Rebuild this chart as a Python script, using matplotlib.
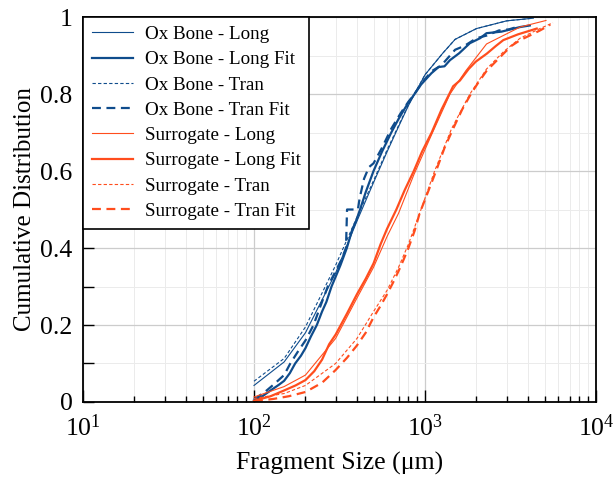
import matplotlib
matplotlib.use("Agg")
import matplotlib.pyplot as plt
from matplotlib.ticker import LogLocator, MultipleLocator, FixedLocator, NullFormatter

plt.rcParams["font.family"] = ["Liberation Serif", "DejaVu Serif"]
plt.rcParams["mathtext.fontset"] = "custom"
plt.rcParams["mathtext.rm"] = "Liberation Serif"
plt.rcParams["mathtext.it"] = "Liberation Serif:italic"

# Ox bone, longitudinal (smooth curve)
ox_long_x = [100, 150, 200, 300, 400, 500, 600, 700, 800, 1000, 1270, 1500, 2000, 3000, 4300]
ox_long_y = [0.043, 0.104, 0.18, 0.335, 0.47, 0.57, 0.65, 0.715, 0.77, 0.85, 0.906, 0.942, 0.97, 0.99, 0.997]

# Ox bone, longitudinal fit (thick, jagged)
ox_long_fit_x = [100, 112, 125, 140, 150, 162, 174, 188, 200, 215, 233, 250, 265, 284, 300, 320,
                 349, 375, 395, 417, 450, 500, 560, 635, 700, 780, 868, 950, 1090, 1200, 1300,
                 1400, 1585, 1830, 2100, 2290, 2800, 3600, 4100]
ox_long_fit_y = [0.004, 0.015, 0.03, 0.045, 0.055, 0.075, 0.1, 0.12, 0.14, 0.17, 0.2, 0.235, 0.26,
                 0.3, 0.325, 0.355, 0.4, 0.447, 0.47, 0.5, 0.545, 0.6, 0.65, 0.7, 0.735, 0.77, 0.8,
                 0.825, 0.854, 0.87, 0.872, 0.888, 0.906, 0.932, 0.945, 0.958, 0.962, 0.974, 0.978]

# Ox bone, transverse (smooth curve)
ox_tran_x = [100, 150, 200, 300, 400, 500, 600, 700, 800, 1000, 1270, 1500, 2000, 3000, 4300]
ox_tran_y = [0.054, 0.113, 0.195, 0.355, 0.48, 0.575, 0.655, 0.718, 0.772, 0.85, 0.906, 0.942, 0.97, 0.99, 0.997]

# Ox bone, transverse fit (thick dashed, jagged)
ox_tran_fit_x = [100, 115, 130, 150, 163, 180, 200, 223, 245, 270, 300, 325, 345, 350, 380, 405,
                 415, 440, 470, 500, 560, 635, 720, 800, 868, 960, 1100, 1250, 1500, 1700, 2000,
                 2300, 2700, 3100, 3500]
ox_tran_fit_y = [0.007, 0.025, 0.045, 0.07, 0.1, 0.13, 0.16, 0.2, 0.25, 0.3, 0.34, 0.37, 0.4, 0.5,
                 0.5, 0.5, 0.53, 0.58, 0.61, 0.62, 0.66, 0.71, 0.75, 0.78, 0.8, 0.83, 0.86, 0.875,
                 0.915, 0.925, 0.945, 0.952, 0.965, 0.968, 0.975]

# Surrogate, longitudinal (smooth curve)
sur_long_x = [100, 150, 200, 300, 400, 500, 600, 700, 860, 1094, 1400, 1730, 2290, 3600, 5100]
sur_long_y = [0.013, 0.04, 0.07, 0.165, 0.27, 0.35, 0.43, 0.49, 0.59, 0.695, 0.8, 0.86, 0.93, 0.974, 0.991]

# Surrogate, longitudinal fit (thick, jagged)
sur_long_fit_x = [100, 125, 150, 175, 200, 225, 250, 275, 300, 350, 400, 450, 500, 550, 600, 680,
                  760, 860, 960, 1094, 1250, 1387, 1460, 1600, 1800, 1980, 2300, 2600, 2870, 3500,
                  4500]
sur_long_fit_y = [0.003, 0.015, 0.03, 0.043, 0.057, 0.08, 0.11, 0.15, 0.175, 0.23, 0.28, 0.32, 0.36,
                  0.41, 0.45, 0.5, 0.55, 0.6, 0.65, 0.7, 0.76, 0.8, 0.82, 0.835, 0.865, 0.884, 0.905,
                  0.925, 0.94, 0.955, 0.97]

# Surrogate, transverse (smooth curve)
sur_tran_x = [100, 150, 200, 300, 400, 500, 600, 700, 800, 930, 1138, 1430, 1830, 2290, 2880, 3600, 4700, 5600]
sur_tran_y = [0.009, 0.022, 0.043, 0.1, 0.165, 0.235, 0.29, 0.35, 0.41, 0.49, 0.6, 0.71, 0.8, 0.865,
              0.91, 0.945, 0.97, 0.985]

# Surrogate, transverse fit (thick dashed, jagged)
sur_tran_fit_x = [100, 130, 160, 200, 250, 300, 350, 400, 450, 500, 550, 600, 650, 700, 750, 800,
                  870, 930, 1050, 1160, 1300, 1460, 1650, 1855, 2050, 2290, 2600, 2880, 3200, 3600,
                  4100, 4700, 5400]
sur_tran_fit_y = [0.002, 0.008, 0.015, 0.026, 0.05, 0.083, 0.115, 0.147, 0.18, 0.22, 0.25, 0.28,
                  0.31, 0.34, 0.37, 0.4, 0.445, 0.49, 0.55, 0.6, 0.66, 0.71, 0.76, 0.8, 0.83,
                  0.86, 0.885, 0.905, 0.925, 0.94, 0.952, 0.965, 0.98]

x_ticks = [10, 100, 1000, 10000]
y_ticks = [0, 0.2, 0.4, 0.6, 0.8, 1.0]
y_tick_labels = ["0", "0.2", "0.4", "0.6", "0.8", "1"]

blue = "#0f4c8c"
orange = "#ff4d1d"

fig = plt.figure(figsize=(6.14, 4.78), dpi=100)
ax = fig.add_axes([0.1352, 0.159, 0.8355, 0.8054])

thin = 0.8
thick = 1.6

ax.plot(ox_long_x, ox_long_y, color=blue, lw=thin, label="Ox Bone - Long")
ax.plot(ox_long_fit_x, ox_long_fit_y, color=blue, lw=thick, label="Ox Bone - Long Fit")
ax.plot(ox_tran_x, ox_tran_y, color=blue, lw=thin, ls=(0, (3, 2)), label="Ox Bone - Tran")
ax.plot(ox_tran_fit_x, ox_tran_fit_y, color=blue, lw=thick, ls=(0, (4, 2.5)), label="Ox Bone - Tran Fit")
ax.plot(sur_long_x, sur_long_y, color=orange, lw=thin, label="Surrogate - Long")
ax.plot(sur_long_fit_x, sur_long_fit_y, color=orange, lw=thick, label="Surrogate - Long Fit")
ax.plot(sur_tran_x, sur_tran_y, color=orange, lw=thin, ls=(0, (3, 2)), label="Surrogate - Tran")
ax.plot(sur_tran_fit_x, sur_tran_fit_y, color=orange, lw=thick, ls=(0, (4, 2.5)), label="Surrogate - Tran Fit")

ax.set_xscale("log")
ax.set_xlim(10, 10000)
ax.set_ylim(0, 1)

ax.xaxis.set_major_locator(FixedLocator(x_ticks))
ax.xaxis.set_minor_locator(LogLocator(base=10, subs=range(2, 10)))
ax.xaxis.set_minor_formatter(NullFormatter())
ax.set_yticks(y_ticks)
ax.set_yticklabels(y_tick_labels)
ax.yaxis.set_minor_locator(MultipleLocator(0.1))

ax.grid(which="major", color="#cccccc", lw=0.9)
ax.grid(which="minor", color="#ebebeb", lw=0.7)
ax.set_axisbelow(True)

ax.tick_params(which="both", direction="in", top=False, right=False, labelsize=18.5)
ax.tick_params(axis="x", which="major", length=9, width=1.0, pad=9)
ax.tick_params(axis="x", which="minor", length=4, width=1.0)
ax.tick_params(axis="y", which="both", length=8, width=1.0, pad=7.5)

for spine in ax.spines.values():
    spine.set_linewidth(1.3)

ax.set_xlabel("Fragment Size (\u03bcm)", fontsize=18.5, labelpad=8)
ax.set_ylabel("Cumulative Distribution", fontsize=18, labelpad=3)

leg = ax.legend(loc="upper left", fontsize=13.7, borderaxespad=0, fancybox=False,
                edgecolor="black", framealpha=1, handlelength=2.2, handletextpad=0.6,
                labelspacing=0.42, borderpad=0.45)
leg.get_frame().set_linewidth(1.2)

fig.savefig("out.png", dpi=100)
